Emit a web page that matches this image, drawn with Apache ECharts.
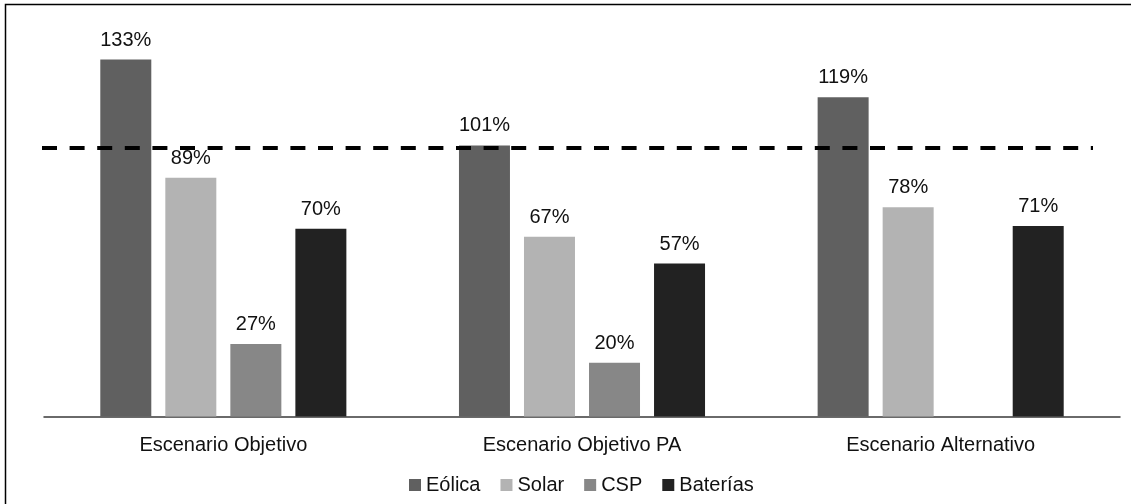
<!DOCTYPE html>
<html>
<head>
<meta charset="utf-8">
<script src="https://cdn.jsdelivr.net/npm/echarts@6/dist/echarts.min.js"></script>
<style>
  html, body { margin: 0; padding: 0; background: #fff; }
  #chart { width: 1131px; height: 504px; }
</style>
</head>
<body>
<div id="chart"></div>
<script>
// Scenario categories and technology series (percent)
const categories = ['Escenario Objetivo', 'Escenario Objetivo PA', 'Escenario Alternativo'];
const eolica   = [133, 101, 119];
const solar    = [89, 67, 78];
const csp      = [27, 20, null];
const baterias = [70, 57, 71];
const referenceLevel = 100;

const FONT = "'Liberation Sans Narrow', 'Arial Narrow', 'Liberation Sans', Arial, sans-serif";

const labelStyle = {
  show: true,
  position: 'top',
  distance: 9.5,
  fontFamily: FONT,
  fontSize: 20,
  color: '#111',
  formatter: p => p.value + '%'
};

function barSeries(name, data, color, extra) {
  return Object.assign({
    name: name,
    type: 'bar',
    data: data,
    barWidth: 51,
    barGap: '27.5%',
    itemStyle: { color: color },
    label: labelStyle
  }, extra || {});
}

const chart = echarts.init(document.getElementById('chart'));
chart.setOption({
  animation: false,
  backgroundColor: '#fff',
  graphic: [{
    type: 'rect',
    shape: { x: 5.5, y: 4.5, width: 1140, height: 520 },
    style: { fill: 'none', stroke: '#000', lineWidth: 1.5 },
    silent: true
  }],
  grid: { left: 44, right: 11, top: 14, bottom: 87.5, containLabel: false },
  legend: {
    left: 409,
    top: 475,
    padding: 0,
    itemWidth: 12,
    itemHeight: 12,
    itemGap: 20,
    icon: 'rect',
    textStyle: { fontFamily: FONT, fontSize: 20, color: '#111' },
    data: ['Eólica', 'Solar', 'CSP', 'Baterías']
  },
  xAxis: {
    type: 'category',
    data: categories,
    axisLine: { lineStyle: { color: '#3a3a3a', width: 1.5 } },
    axisTick: { show: false },
    axisLabel: { margin: 19, fontFamily: FONT, fontSize: 20, color: '#111' }
  },
  yAxis: {
    type: 'value',
    min: 0,
    max: 150,
    show: false,
    splitLine: { show: false }
  },
  series: [
    barSeries('Eólica', eolica, '#606060', {
      markLine: {
        silent: true,
        symbol: ['none', 'none'],
        label: { show: false },
        lineStyle: { color: '#000', width: 4, type: [15, 12.6] },
        data: [[{ x: 42, yAxis: referenceLevel }, { x: 1093, yAxis: referenceLevel }]]
      }
    }),
    barSeries('Solar', solar, '#b3b3b3'),
    barSeries('CSP', csp, '#878787'),
    barSeries('Baterías', baterias, '#222222')
  ]
});
</script>
</body>
</html>
